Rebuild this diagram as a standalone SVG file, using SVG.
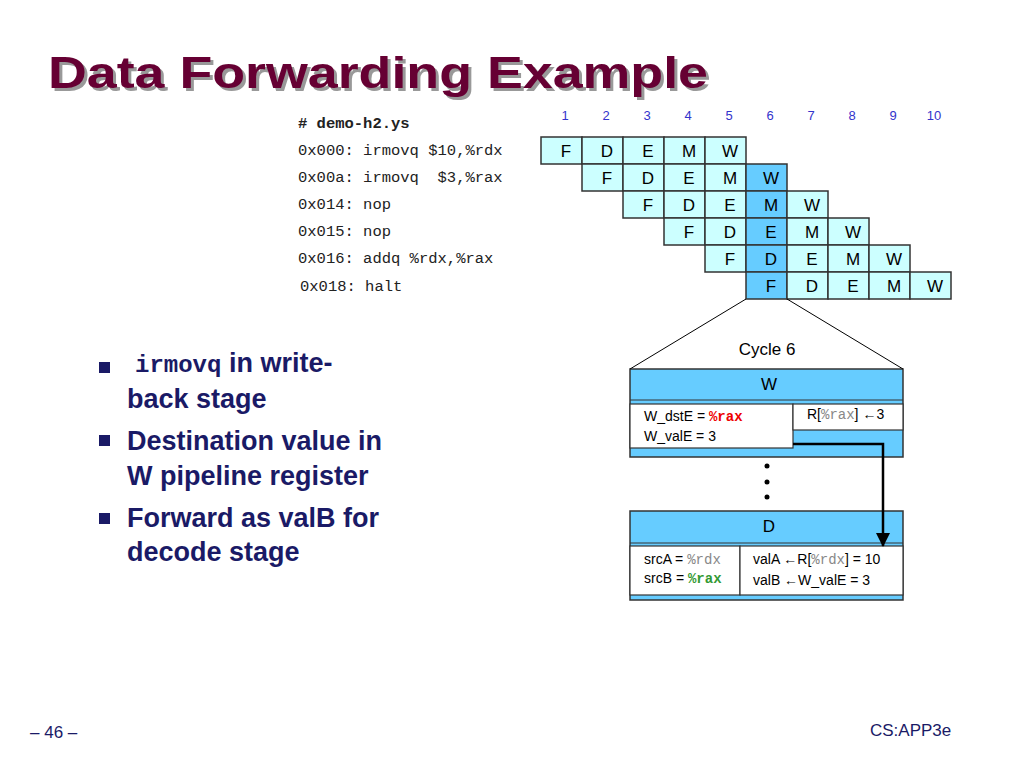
<svg xmlns="http://www.w3.org/2000/svg" width="1024" height="767" viewBox="0 0 1024 767">
<style>
.c{fill:#ccffff;stroke:#333;stroke-width:1.5}
.h{fill:#66ccff;stroke:#333;stroke-width:1.5}
.ct{font-family:"Liberation Sans",Arial,sans-serif;font-size:17px;text-anchor:middle;fill:#000}
.n{font-family:"Liberation Sans",Arial,sans-serif;font-size:13px;text-anchor:middle;fill:#3333cc}
.code{font-family:"Liberation Mono","Courier New",monospace;font-size:15.5px;fill:#222;white-space:pre}
.b{font-family:"Liberation Sans",Arial,sans-serif;font-size:27px;font-weight:bold;fill:#1a1a66}
.s{font-family:"Liberation Sans",Arial,sans-serif;font-size:14px;fill:#000}
.m{font-family:"Liberation Mono","Courier New",monospace;font-size:14px}
.w{fill:#fff;stroke:#333;stroke-width:1.2}
</style>
<defs><marker id="ah" markerWidth="14" markerHeight="14" refX="13" refY="7" orient="auto" markerUnits="userSpaceOnUse" viewBox="0 0 14 14"><path d="M0,0 L14,7 L0,14 z" fill="#000"/></marker></defs>
<g id="title" font-family="Liberation Sans,Arial,sans-serif" font-size="45" font-weight="bold">
<text x="51" y="91" fill="#999" textLength="660" lengthAdjust="spacingAndGlyphs">Data Forwarding Example</text>
<text x="48" y="88" fill="#660033" textLength="660" lengthAdjust="spacingAndGlyphs">Data Forwarding Example</text>
</g>
<g id="code" xml:space="preserve">
<text x="298" y="128" class="code" font-weight="bold"># demo-h2.ys</text>
<text x="298" y="155" class="code">0x000: irmovq $10,%rdx</text>
<text x="298" y="182" class="code">0x00a: irmovq  $3,%rax</text>
<text x="298" y="209" class="code">0x014: nop</text>
<text x="298" y="236" class="code">0x015: nop</text>
<text x="298" y="263" class="code">0x016: addq %rdx,%rax</text>
<text x="300" y="291" class="code">0x018: halt</text>
</g>
<g id="cycles">
<text x="565" y="120" class="n">1</text><text x="606" y="120" class="n">2</text><text x="647" y="120" class="n">3</text><text x="688" y="120" class="n">4</text><text x="729" y="120" class="n">5</text><text x="770" y="120" class="n">6</text><text x="811" y="120" class="n">7</text><text x="852" y="120" class="n">8</text><text x="893" y="120" class="n">9</text><text x="934" y="120" class="n">10</text>
</g>
<g id="grid">
<g><rect class="c" x="541" y="137" width="41" height="27"/><rect class="c" x="582" y="137" width="41" height="27"/><rect class="c" x="623" y="137" width="41" height="27"/><rect class="c" x="664" y="137" width="41" height="27"/><rect class="c" x="705" y="137" width="41" height="27"/>
<text class="ct" x="566" y="157">F</text><text class="ct" x="607" y="157">D</text><text class="ct" x="648" y="157">E</text><text class="ct" x="689" y="157">M</text><text class="ct" x="730" y="157">W</text></g>
<g><rect class="c" x="582" y="164" width="41" height="27"/><rect class="c" x="623" y="164" width="41" height="27"/><rect class="c" x="664" y="164" width="41" height="27"/><rect class="c" x="705" y="164" width="41" height="27"/><rect class="h" x="746" y="164" width="41" height="27"/>
<text class="ct" x="607" y="184">F</text><text class="ct" x="648" y="184">D</text><text class="ct" x="689" y="184">E</text><text class="ct" x="730" y="184">M</text><text class="ct" x="771" y="184">W</text></g>
<g><rect class="c" x="623" y="191" width="41" height="27"/><rect class="c" x="664" y="191" width="41" height="27"/><rect class="c" x="705" y="191" width="41" height="27"/><rect class="h" x="746" y="191" width="41" height="27"/><rect class="c" x="787" y="191" width="41" height="27"/>
<text class="ct" x="648" y="211">F</text><text class="ct" x="689" y="211">D</text><text class="ct" x="730" y="211">E</text><text class="ct" x="771" y="211">M</text><text class="ct" x="812" y="211">W</text></g>
<g><rect class="c" x="664" y="218" width="41" height="27"/><rect class="c" x="705" y="218" width="41" height="27"/><rect class="h" x="746" y="218" width="41" height="27"/><rect class="c" x="787" y="218" width="41" height="27"/><rect class="c" x="828" y="218" width="41" height="27"/>
<text class="ct" x="689" y="238">F</text><text class="ct" x="730" y="238">D</text><text class="ct" x="771" y="238">E</text><text class="ct" x="812" y="238">M</text><text class="ct" x="853" y="238">W</text></g>
<g><rect class="c" x="705" y="245" width="41" height="27"/><rect class="h" x="746" y="245" width="41" height="27"/><rect class="c" x="787" y="245" width="41" height="27"/><rect class="c" x="828" y="245" width="41" height="27"/><rect class="c" x="869" y="245" width="41" height="27"/>
<text class="ct" x="730" y="265">F</text><text class="ct" x="771" y="265">D</text><text class="ct" x="812" y="265">E</text><text class="ct" x="853" y="265">M</text><text class="ct" x="894" y="265">W</text></g>
<g><rect class="h" x="746" y="272" width="41" height="27"/><rect class="c" x="787" y="272" width="41" height="27"/><rect class="c" x="828" y="272" width="41" height="27"/><rect class="c" x="869" y="272" width="41" height="27"/><rect class="c" x="910" y="272" width="41" height="27"/>
<text class="ct" x="771" y="292">F</text><text class="ct" x="812" y="292">D</text><text class="ct" x="853" y="292">E</text><text class="ct" x="894" y="292">M</text><text class="ct" x="935" y="292">W</text></g>
</g>
<g id="bullets">
<rect x="99" y="362" width="11" height="11" fill="#1a1a66"/>
<text x="135" y="372" class="b"><tspan font-family="Liberation Mono,Courier New,monospace" font-size="24">irmovq</tspan> in write-</text>
<text x="127" y="408" class="b">back stage</text>
<rect x="99" y="435" width="11" height="11" fill="#1a1a66"/>
<text x="127" y="450" class="b">Destination value in</text>
<text x="127" y="485" class="b">W pipeline register</text>
<rect x="99" y="513" width="11" height="11" fill="#1a1a66"/>
<text x="127" y="527" class="b">Forward as valB for</text>
<text x="127" y="561" class="b">decode stage</text>
</g>
<text x="767" y="355" class="ct" font-size="16">Cycle 6</text>
<g id="wstage">
<rect class="h" x="630" y="369" width="273" height="88"/>
<line x1="630" y1="400" x2="903" y2="400" stroke="#333"/>
<text x="769" y="390" class="ct" font-size="16">W</text>
<rect class="w" x="630" y="404" width="163" height="44"/>
<rect class="w" x="793" y="404" width="110" height="26"/>
<text x="644" y="421" class="s">W_dstE = <tspan class="m" fill="#e00" font-weight="bold">%rax</tspan></text>
<text x="644" y="441" class="s">W_valE = 3</text>
<text x="807" y="419" class="s">R[<tspan class="m" fill="#888">%rax</tspan>] ←3</text>
</g>
<g id="dots" fill="#000"><circle cx="767" cy="466" r="2.5"/><circle cx="767" cy="482" r="2.5"/><circle cx="767" cy="497" r="2.5"/></g>
<g id="dstage">
<rect class="h" x="630" y="511" width="273" height="89"/>
<line x1="630" y1="543" x2="903" y2="543" stroke="#333"/>
<text x="769" y="532" class="ct" font-size="16">D</text>
<rect class="w" x="630" y="546" width="110" height="49"/>
<rect class="w" x="740" y="546" width="163" height="49"/>
<text x="644" y="564" class="s">srcA = <tspan class="m" fill="#888">%rdx</tspan></text>
<text x="644" y="583" class="s">srcB = <tspan class="m" fill="#393" font-weight="bold">%rax</tspan></text>
<text x="753" y="564" class="s">valA  ←R[<tspan class="m" fill="#888">%rdx</tspan>] = 10</text>
<text x="753" y="585" class="s">valB  ←W_valE = 3</text>
</g>
<g id="connectors" stroke="#000" fill="none">
<line x1="746" y1="299" x2="630" y2="369" stroke-width="1"/>
<line x1="787" y1="299" x2="903" y2="369" stroke-width="1"/>
<polyline points="793,444 883,444 883,546" stroke-width="2.5" marker-end="url(#ah)"/>
</g>
<g id="footer" font-family="Liberation Sans,Arial,sans-serif" font-size="17" fill="#1a1a66">
<text x="30" y="738">– 46 –</text>
<text x="870" y="736">CS:APP3e</text>
</g>
</svg>
